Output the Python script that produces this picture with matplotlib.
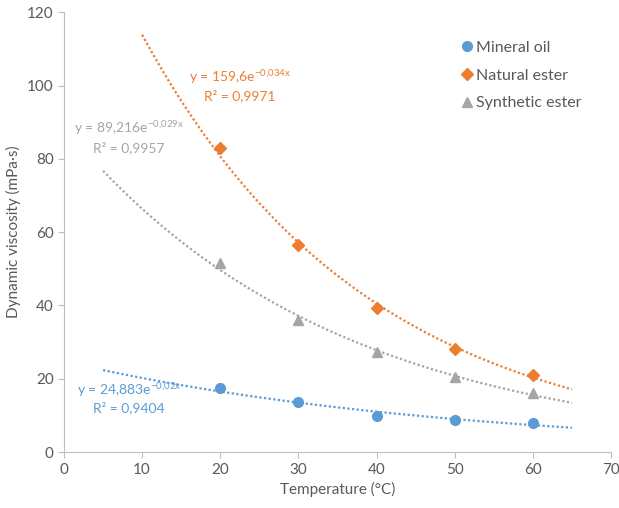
import numpy as np
import matplotlib.pyplot as plt

plt.rcParams['font.family'] = ['Lato', 'DejaVu Sans']
plt.rcParams['mathtext.fontset'] = 'custom'
plt.rcParams['mathtext.rm'] = 'Lato'
plt.rcParams['mathtext.it'] = 'Lato'

temps = [20, 30, 40, 50, 60]
mineral_oil = [17.5, 13.7, 9.8, 8.7, 8.0]
natural_ester = [83.0, 56.5, 39.3, 28.2, 21.0]
synthetic_ester = [51.5, 36.0, 27.3, 20.5, 16.0]

# trendline ranges (x start, x end) and their labels as shown in the chart
trend_ranges = {"Mineral oil": (5, 65), "Natural ester": (10, 65), "Synthetic ester": (5, 65)}
trend_labels = {
    "Mineral oil": (r"y = 24,883e$^{\mathrm{-0{,}02x}}$", "R² = 0,9404"),
    "Natural ester": (r"y = 159,6e$^{\mathrm{-0{,}034x}}$", "R² = 0,9971"),
    "Synthetic ester": (r"y = 89,216e$^{\mathrm{-0{,}029x}}$", "R² = 0,9957"),
}
label_pos = {"Mineral oil": (8.3, 16.9, 12.0),
             "Natural ester": (22.5, 102.3, 97.3),
             "Synthetic ester": (8.3, 88.4, 83.0)}

blue = '#5B9BD5'
orange = '#ED7D31'
grey = '#A5A5A5'
series = [
    ("Mineral oil", mineral_oil, blue, 'o'),
    ("Natural ester", natural_ester, orange, 'D'),
    ("Synthetic ester", synthetic_ester, grey, '^'),
]

fig = plt.figure(figsize=(6.19, 5.08), dpi=100)
ax = fig.add_axes([0.1034, 0.110, 0.8837, 0.866])

for name, vals, col, mk in series:
    # exponential fit, same as the excel trendline
    b, ln_a = np.polyfit(temps, np.log(vals), 1)
    x0, x1 = trend_ranges[name]
    xs = np.linspace(x0, x1, 200)
    ax.plot(xs, np.exp(ln_a) * np.exp(b * xs), color=col, lw=1.6,
            linestyle=(0, (1, 1.1)), dash_capstyle='butt', zorder=2)
    ms = {'o': 7, 'D': 6, '^': 7}[mk]
    ax.plot(temps, vals, linestyle='none', marker=mk, color=col, ms=ms,
            label=name, zorder=3)
    lx, ly1, ly2 = label_pos[name]
    ax.text(lx, ly1, trend_labels[name][0], color=col, fontsize=10,
            ha='center', va='center')
    ax.text(lx, ly2, trend_labels[name][1], color=col, fontsize=10,
            ha='center', va='center')

ax.set_xlim(0, 70)
ax.set_ylim(0, 120)
ax.set_xticks(range(0, 71, 10))
ax.set_yticks(range(0, 121, 20))
for s in ['top', 'right']:
    ax.spines[s].set_visible(False)
for s in ['left', 'bottom']:
    ax.spines[s].set_color('#BFBFBF')
ax.tick_params(colors='#BFBFBF', labelcolor='#595959', labelsize=11, length=4)
ax.set_xlabel("Temperature (°C)", color='#595959', fontsize=11, labelpad=4)
ax.set_ylabel("Dynamic viscosity (mPa·s)", color='#595959', fontsize=11, labelpad=4)

ax.legend(loc='upper left', bbox_to_anchor=(0.695, 0.968), frameon=False,
          fontsize=11.5, labelcolor='#595959', handletextpad=0.1,
          handlelength=1.0, labelspacing=0.85)

fig.savefig('out.png', dpi=100)
